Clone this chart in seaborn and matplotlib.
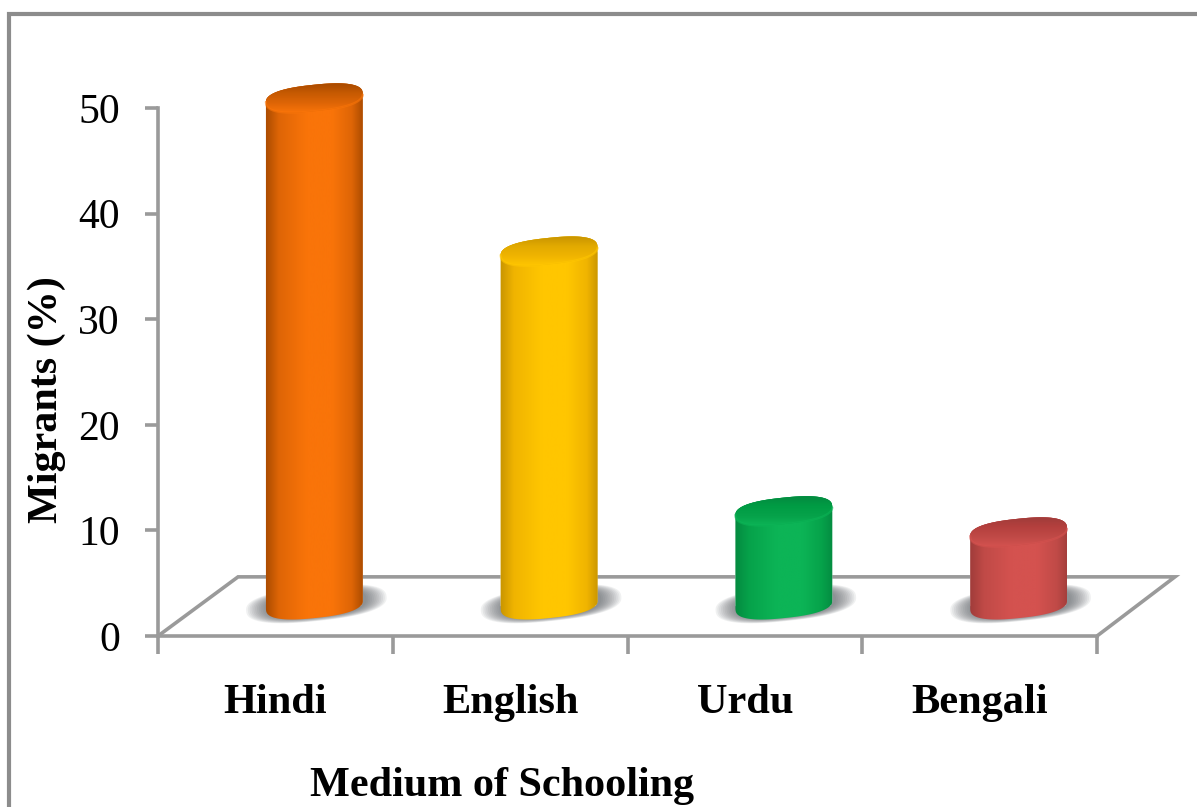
import numpy as np
import pandas as pd
import matplotlib
matplotlib.use("Agg")
import matplotlib.pyplot as plt
import seaborn as sns
from matplotlib.patches import Polygon, Rectangle
from matplotlib.colors import LinearSegmentedColormap

categories = ["Hindi", "English", "Urdu", "Bengali"]
values = [48.0, 33.5, 8.9, 6.9]
edge_colors = ["#a84a00", "#c89400", "#048a40", "#a03c3a"]
soft_colors = ["#de6506", "#f0b400", "#06a24a", "#c04a47"]
mid_colors = ["#f97409", "#ffc600", "#0cb456", "#d4524f"]
cap_colors = ["#c65a02", "#e2aa00", "#009c44", "#b5403e"]
y_ticks = [0, 10, 20, 30, 40, 50]
GREY = "#9a9a9a"

W, H = 1197, 807
sns.set_theme(style="white")
plt.rcParams["font.family"] = ["Liberation Serif", "DejaVu Serif"]

fig = plt.figure(figsize=(W / 100, H / 100), dpi=100, facecolor="white")
ax = fig.add_axes([158 / W, 1 - 636 / H, (1097 - 158) / W, (636 - 108) / H])
ax.patch.set_alpha(0)

PX_X = 4 / (1097 - 158)   # category units per pixel
PX_Y = 50 / (636 - 108)   # value units per pixel
depth_x = 0.166           # bars sit at mid-depth of the floor
base = 2.95               # floor level of the bar base
A, B = 48.6, 13.2         # ellipse half axes, pixels
THETA = np.radians(6)     # ellipse tilt
ROUND = 0.8               # <1 gives fuller, rounder shoulders


def ellipse_full(xc, yc, a=A, b=B):
    t = np.linspace(0, 2 * np.pi, 241)[:-1]
    c = np.sign(np.cos(t)) * np.abs(np.cos(t)) ** ROUND
    s = np.sign(np.sin(t)) * np.abs(np.sin(t)) ** ROUND
    x = a * c * np.cos(THETA) - b * s * np.sin(THETA)
    y = a * c * np.sin(THETA) + b * s * np.cos(THETA)
    return x * PX_X + xc, y * PX_Y + yc


df = pd.DataFrame({"Medium": categories, "Migrants": values})
sns.barplot(data=df, x="Medium", y="Migrants", hue="Medium", palette=mid_colors,
            legend=False, width=2 * A * PX_X, bottom=base, ax=ax, zorder=3)
for p in ax.patches:
    p.set_x(p.get_x() + depth_x)

# floor of the 3-D plot
fx = [-0.5, -0.5 + 0.341, 3.5 + 0.332, 3.5]
fy = [0, 5.6, 5.6, 0]
ax.add_patch(Polygon(list(zip(fx, fy)), closed=False, fc="white", ec=GREY, lw=2.6,
                     clip_on=False, zorder=1))

half_w = A * PX_X * 1.01
grid = np.linspace(0, 1, 256)[None, :]
for i, v in enumerate(values):
    xc = i + depth_x
    top = base + v
    # soft shadow on the floor
    n = 12
    for k in range(n):
        f = 1 - k / n
        sx, sy = ellipse_full(xc + 2 * PX_X, base + 0.1, a=A + 22 * f, b=B + 4 * f)
        ax.add_patch(Polygon(np.column_stack([sx, sy]), closed=True, fc="#5a6066", ec="none",
                             alpha=0.085, zorder=2, clip_on=False))
    # body outline: upper arc of the top ellipse + lower arc of the base ellipse
    tx, ty = ellipse_full(xc, top)
    bx, by = ellipse_full(xc, base)
    r = int(np.argmax(tx))
    l = int(np.argmin(tx))
    tx, ty = np.roll(tx, -r), np.roll(ty, -r)
    bx, by = np.roll(bx, -r), np.roll(by, -r)
    m = (l - r) % len(tx)
    body = np.column_stack([np.r_[tx[:m + 1], bx[m:]], np.r_[ty[:m + 1], by[m:]]])
    poly = Polygon(body, closed=True, fc="none", ec="none", clip_on=False)
    ax.add_patch(poly)
    bar = ax.patches[i]
    bar.set_clip_box(fig.bbox)
    bar.set_clip_path(poly)
    cmap = LinearSegmentedColormap.from_list(
        "c", [(0, edge_colors[i]), (0.14, soft_colors[i]), (0.42, mid_colors[i]),
              (0.68, mid_colors[i]), (0.88, soft_colors[i]), (1, edge_colors[i])])
    im = ax.imshow(grid, cmap=cmap, aspect="auto", zorder=4,
                   extent=[xc - half_w, xc + half_w, base - 2, top + 2])
    im.set_clip_box(fig.bbox)
    im.set_clip_path(poly)
    # cap
    cap_shape = Polygon(np.column_stack([tx, ty]), closed=True, fc=cap_colors[i], ec="none",
                        zorder=5, clip_on=False)
    ax.add_patch(cap_shape)
    capmap = LinearSegmentedColormap.from_list(
        "k", [mid_colors[i], soft_colors[i], cap_colors[i], edge_colors[i]])
    im2 = ax.imshow(np.linspace(0, 1, 64)[:, None], cmap=capmap, aspect="auto", zorder=6,
                    origin="lower", extent=[xc - half_w, xc + half_w, top - 1.4, top + 1.4])
    im2.set_clip_box(fig.bbox)
    im2.set_clip_path(cap_shape)
    ax.plot(tx[m:], ty[m:], color=mid_colors[i], lw=1.6, alpha=0.6, zorder=7, clip_on=False)

# imshow resets limits
ax.set_xlim(-0.5, 3.5)
ax.set_ylim(0, 50)

# axes
sns.despine(ax=ax, top=True, right=True)
for s in ("left", "bottom"):
    ax.spines[s].set_color(GREY)
    ax.spines[s].set_linewidth(2.6)
    ax.spines[s].set_zorder(1.5)
ax.set_yticks(y_ticks)
ax.tick_params(axis="y", length=9.4, width=2.6, color=GREY, labelsize=30,
               labelcolor="black", pad=18, left=True)
ax.set_xticks([-0.5, 0.5, 1.5, 2.5, 3.5])
ax.set_xticklabels([])
ax.tick_params(axis="x", length=13, width=2.6, color=GREY, bottom=True)
ax.set_xlabel("")
ax.set_ylabel("")

for i, c in enumerate(categories):
    ax.text(i, (636 - 713) * PX_Y, c, ha="center", va="baseline", fontsize=30.5,
            fontweight="bold", color="black", clip_on=False)
fig.text(502 / W, 1 - 796 / H, "Medium of Schooling", ha="center", va="baseline",
         fontsize=30.3, fontweight="bold", color="black")
fig.text(47 / W, 1 - 400 / H, "Migrants (%)", ha="center", va="center", rotation=90,
         fontsize=30.3, fontweight="bold", color="black")

# outer frame of the chart area
fig.add_artist(Rectangle((8.5 / W, -0.02), 1.1, 1 - 14 / H + 0.02, transform=fig.transFigure,
                         fc="none", ec="#8c8c8c", lw=3.0))

fig.savefig("out.png", dpi=100, facecolor="white")
